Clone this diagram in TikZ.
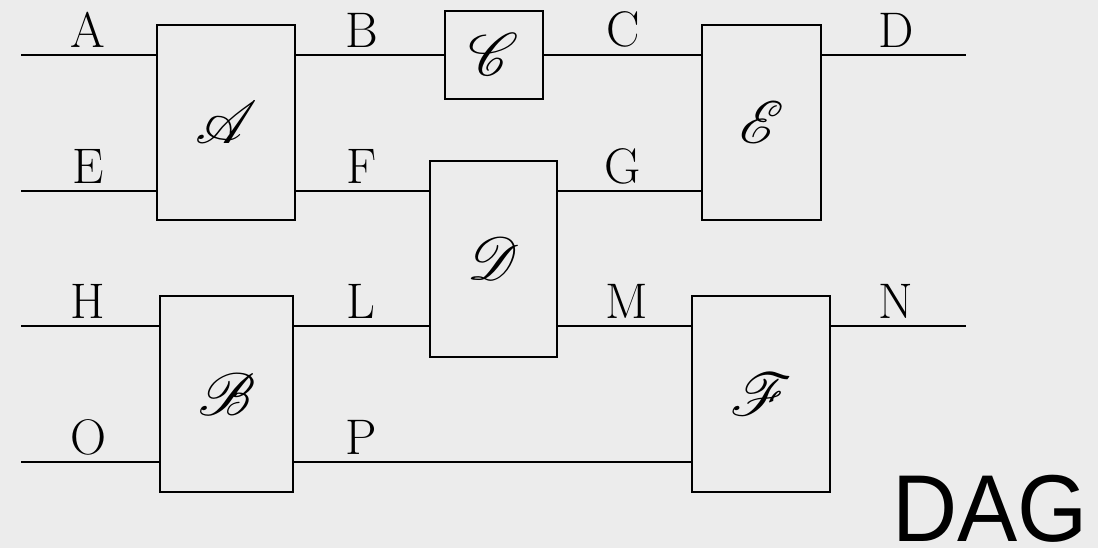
\documentclass[tikz,border=0pt]{standalone}
\usepackage{fontspec}
\usepackage{mathrsfs}
\newfontfamily\dagfont{Liberation Sans}
\definecolor{bgc}{HTML}{ECECEC}
\newcommand{\bigscr}[1]{\scalebox{6}{$\mathscr{#1}$}}
\begin{document}
\begin{tikzpicture}[x=1pt,y=-1pt,
  blk/.style={draw=black,line width=2.8pt,inner sep=0pt,fill=bgc},
  wire/.style={line width=2.8pt},
  lbl/.style={anchor=base,inner sep=0pt,font=\fontsize{50}{60}\selectfont}]
\fill[bgc] (0,0) rectangle (1098,548);
\useasboundingbox (0,0) rectangle (1098,548);
% blocks
\node[blk,minimum width=138pt,minimum height=195pt] (bA) at (226,122.5) {\bigscr{A}};
\node[blk,minimum width=98pt,minimum height=88pt] (bC) at (494,55) {\bigscr{C}};
\node[blk,minimum width=119pt,minimum height=195pt] (bE) at (761.5,122.5) {\bigscr{E}};
\node[blk,minimum width=127pt,minimum height=196pt] (bD) at (493.5,259) {\bigscr{D}};
\node[blk,minimum width=133pt,minimum height=196pt] (bB) at (226.5,394) {\bigscr{B}};
\node[blk,minimum width=138pt,minimum height=196pt] (bF) at (761,394) {\bigscr{F}};
% free ends
\coordinate (inA) at (21,55);
\coordinate (inE) at (21,191);
\coordinate (inH) at (21,326);
\coordinate (inO) at (21,462);
\coordinate (outD) at (966,55);
\coordinate (outN) at (966,326);
\coordinate (rF) at (0,191);
\coordinate (rL) at (0,326);
\coordinate (rP) at (0,462);
% wires
\draw[wire] (inA) -- (bA.west |- inA);
\draw[wire] (inE) -- (bA.west |- inE);
\draw[wire] (bA.east |- bC.west) -- (bC.west);
\draw[wire] (bC.east) -- (bE.west |- bC.east);
\draw[wire] (bE.east |- outD) -- (outD);
\draw[wire] (bA.east |- rF) -- (bD.west |- rF);
\draw[wire] (bD.east |- rF) -- (bE.west |- rF);
\draw[wire] (inH) -- (bB.west |- inH);
\draw[wire] (inO) -- (bB.west |- inO);
\draw[wire] (bB.east |- rL) -- (bD.west |- rL);
\draw[wire] (bB.east |- rP) -- (bF.west |- rP);
\draw[wire] (bD.east |- rL) -- (bF.west |- rL);
\draw[wire] (bF.east |- outN) -- (outN);
% labels
\node[lbl] (lA) at (88,48) {A};
\node[lbl] (lE) at (88,184) {E};
\node[lbl] (lB) at (362,48) {B};
\node[lbl] (lC) at (623,47) {C};
\node[lbl] (lD) at (896,48) {D};
\node[lbl] (lF) at (362,184) {F};
\node[lbl] (lG) at (623,184) {G};
\node[lbl] (lH) at (88,318) {H};
\node[lbl] (lL) at (361,318) {L};
\node[lbl] (lM) at (627,318) {M};
\node[lbl] (lN) at (896,318) {N};
\node[lbl] (lO) at (88,454) {O};
\node[lbl] (lP) at (361,454) {P};
\node[anchor=base west,inner sep=0pt,xscale=0.95,transform shape,
  font=\dagfont\fontsize{95}{110}\selectfont] (dag) at (892,541) {DAG};
\end{tikzpicture}
\end{document}
